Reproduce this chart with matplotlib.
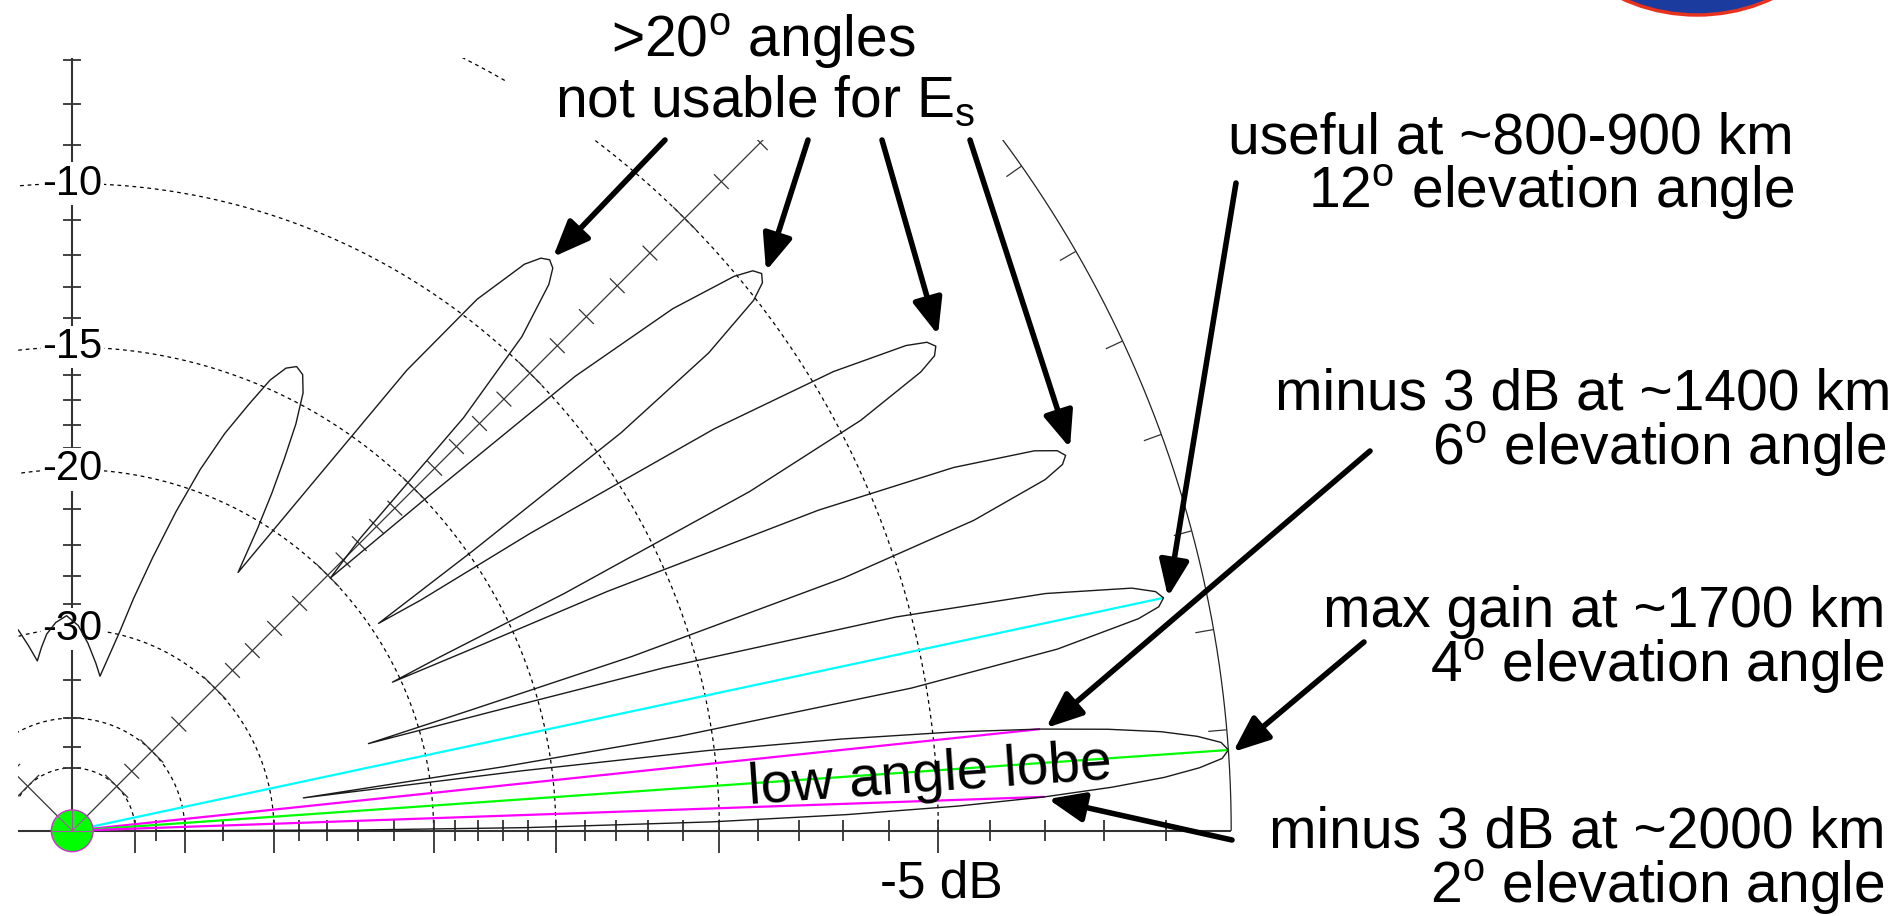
import numpy as np
import matplotlib
matplotlib.use("Agg")
import matplotlib.pyplot as plt
from matplotlib.patches import Circle, Ellipse, Rectangle

plt.rcParams["font.family"] = ["Liberation Sans", "DejaVu Sans"]
plt.rcParams["mathtext.fontset"] = "custom"
plt.rcParams["mathtext.rm"] = "Liberation Sans"

# ---- elevation pattern (elevation deg, gain dB) ----
elev_deg = [
    # low angle lobe
    0.0, 0.16, 0.4, 0.8, 1.2, 1.6, 2.0, 2.4, 2.8, 3.2, 3.6, 4.0, 4.4, 4.8, 5.2, 5.6,
    6.0, 6.4, 6.8, 7.2, 7.6, 8.1,
    # 12 deg lobe
    8.45, 8.85, 9.65, 10.45, 11.25, 11.65, 12.05, 12.45, 12.9, 13.7, 14.55, 15.4, 15.85, 16.4,
    # 21 deg lobe
    16.85, 17.3, 18.15, 19.0, 19.85, 20.3, 20.7, 21.1, 21.55, 22.4, 23.25, 24.1, 24.5, 24.9,
    # 29 deg lobe
    25.3, 25.75, 26.6, 27.5, 28.4, 28.85, 29.3, 29.75, 30.2, 31.1, 32.05, 33.0, 33.5, 34.1,
    # 39 deg lobe
    34.95, 35.95, 36.9, 37.9, 38.45, 38.95, 39.45, 39.95, 41.0, 42.1, 43.2, 44.4,
    # 50 deg lobe
    45.45, 46.55, 47.7, 48.9, 49.5, 50.1, 50.7, 51.4, 52.7, 54.0, 55.4, 57.3,
    # 64 deg lobe
    58.5, 59.4, 60.3, 61.2, 62.2, 63.2, 64.2, 65.2, 66.3, 67.5, 69.0, 70.5, 72.0, 73.6,
    75.2, 76.6, 78.2, 79.8,
    # overhead
    82.0, 85.2, 88.3, 91.5, 94.5, 97.4, 99.5, 101.6, 103.3, 104.9, 107.0,
]
gain_db = [
    -45, -24.0, -16.1, -10.2, -6.9, -4.6, -3.0, -1.85, -1.0, -0.45, -0.1, 0.0, -0.1, -0.45, -1.0, -1.85,
    -3.0, -4.6, -6.9, -10.2, -16.1, -27.5,
    -16.8, -10.9, -5.3, -2.5, -1.1, -0.75, -0.65, -0.75, -1.1, -2.5, -5.3, -10.9, -16.8, -22.7,
    -17.6, -11.7, -6.1, -3.35, -1.95, -1.6, -1.5, -1.6, -1.95, -3.35, -6.1, -11.7, -17.0, -20.4,
    -18.0, -12.9, -7.3, -4.55, -3.15, -2.8, -2.7, -2.8, -3.15, -4.55, -7.3, -12.9, -17.5, -19.6,
    -14.8, -9.2, -6.45, -5.05, -4.7, -4.6, -4.7, -5.05, -6.45, -9.2, -14.8, -20.0,
    -17.8, -12.2, -9.45, -8.05, -7.7, -7.6, -7.7, -8.05, -9.45, -12.2, -17.5, -22.8,
    -20.3, -18.6, -17.1, -15.7, -14.6, -14.05, -13.9, -14.1, -14.7, -15.8, -17.2, -19.0, -21.3, -24.1,
    -27.0, -29.8, -32.2, -34.3,
    -33.0, -31.2, -29.7, -28.9, -29.4, -30.3, -31.4, -32.6, -31.0, -29.6, -28.0,
]

# highlighted directions (cyan 12 deg, magenta -3 dB points, green max)
ref_elev = [12.05, 6.0, 4.0, 2.0]
ref_gain = [-0.65, -3.0, 0.0, -3.0]
ref_colors = ["#00FFFF", "#FF00FF", "#00FF00", "#FF00FF"]

# ARRL log scale grid
circle_db = [-5, -10, -15, -20, -30, -40, -50]
tick_db = list(range(-1, -21, -1)) + [-22, -24, -26, -28, -30, -35, -40, -45, -50]
label_db = [-10, -15, -20, -30]
label_txt = ["-10", "-15", "-20", "-30"]
arc_tick_deg = list(range(5, 90, 5))

W, H = 1903, 916
OX, OY, R = 72.2, 830.8, 1159.0   # pixel position of origin, 0 dB radius in px


def px(x, y):
    return (x - OX) / R, (OY - y) / R


def arrl(db):
    return 0.89 ** (-np.asarray(db, dtype=float) / 2.0)


def polar(deg, db):
    r = arrl(db)
    t = np.radians(np.asarray(deg, dtype=float))
    return r * np.cos(t), r * np.sin(t)


fig = plt.figure(figsize=(W / 100, H / 100), dpi=100)
ax = fig.add_axes([0, 0, 1, 1])
ax.set_xlim(px(0, 0)[0], px(W, 0)[0])
ax.set_ylim(px(0, H)[1], px(0, 0)[1])
ax.axis("off")

x_left = px(18, 0)[0]
y_top = px(0, 58)[1]
clip = Rectangle((x_left, -0.5), 3.0, y_top + 0.5, transform=ax.transData)


def L(x, y, **kw):
    ln, = ax.plot(x, y, solid_capstyle="butt", **kw)
    ln.set_clip_path(clip)
    return ln


# grid circles
t = np.linspace(0, np.pi, 720)
for db in circle_db:
    r = arrl(db)
    L(r * np.cos(t), r * np.sin(t), color="black", lw=0.9, ls=(0, (3, 3)), zorder=2)
L(np.cos(t), np.sin(t), color="#222222", lw=0.9, zorder=2)

# axes and radial lines
L([-0.2, 1.0], [0, 0], color="#333333", lw=1.5, zorder=2)
L([0, 0], [0, 1.0], color="#333333", lw=1.5, zorder=2)
c45 = np.cos(np.pi / 4)
L([0, c45], [0, c45], color="#333333", lw=0.9, zorder=2)
L([0, -c45], [0, c45], color="#333333", lw=0.9, zorder=2)

for db in tick_db:
    r = arrl(db)
    big = db in circle_db
    if big:
        L([r, r], [-0.019, 0.009], color="#333333", lw=1.3, zorder=2)
    else:
        L([r, r], [-0.009, 0.009], color="#333333", lw=1.3, zorder=2)
    L([-0.008, 0.008], [r, r], color="#333333", lw=1.3, zorder=2)
    h = 0.014 if big else 0.009
    for sgn in (1, -1):
        cx, cy = sgn * r * c45, r * c45
        dx, dy = -c45 * h, sgn * c45 * h
        L([cx - dx, cx + dx], [cy - dy, cy + dy], color="#333333", lw=0.9, zorder=2)

for deg in arc_tick_deg:
    a = np.radians(deg)
    L([np.cos(a), 0.984 * np.cos(a)], [np.sin(a), 0.984 * np.sin(a)],
      color="#333333", lw=0.9, zorder=2)

# axis labels with white background
for db, lab in zip(label_db, label_txt):
    ax.text(0, arrl(db), lab, ha="center", va="center", fontsize=30, zorder=3.8,
            bbox=dict(facecolor="white", edgecolor="none", pad=1))

# highlighted directions
for a, g, c in zip(ref_elev, ref_gain, ref_colors):
    x, y = polar(a, g)
    L([0, x], [0, y], color=c, lw=1.6, zorder=3.5)

# pattern
pat_x, pat_y = polar(elev_deg, gain_db)
L(pat_x, pat_y, color="#1a1a1a", lw=1.0, zorder=4)

# antenna marker at origin
ax.add_patch(Circle((0, 0), 0.018, facecolor="#00FF00", edgecolor="#CC33CC", lw=1.0, zorder=6))
for ang in (0, 45, 90, 135, 180):
    a = np.radians(ang)
    ax.plot([0, 0.018 * np.cos(a)], [0, 0.018 * np.sin(a)], color="#AA55AA", lw=0.8, zorder=6.5)

# white box behind top annotation
x0, y0 = px(505, 140)
ax.add_patch(Rectangle((x0, y0), (1012 - 505) / R, 160 / R, facecolor="white",
                       edgecolor="none", zorder=7))

# logo fragment at top right
ax.add_patch(Ellipse(px(1697, -135), 330 / R, 300 / R, facecolor="#1c3b9e",
                     edgecolor="#e8321e", lw=2.5, zorder=1))


def T(s, X, Y, ha="right", size=41, **kw):
    ax.text(*px(X, Y), s, ha=ha, va="baseline", fontsize=size, zorder=8, **kw)


T(r">20$^\mathregular{o}$ angles", 763, 58, ha="center")
T(r"not usable for E$_\mathregular{s}$", 765, 117, ha="center")
T("useful at ~800-900 km", 1794, 153)
T(r"12$^\mathregular{o}$ elevation angle", 1794, 209)
T("minus 3 dB at ~1400 km", 1891, 409)
T(r"6$^\mathregular{o}$ elevation angle", 1887, 466)
T("max gain at ~1700 km", 1885, 627)
T(r"4$^\mathregular{o}$ elevation angle", 1885, 683)
T("minus 3 dB at ~2000 km", 1885, 848)
T(r"2$^\mathregular{o}$ elevation angle", 1885, 904)
T("-5 dB", 941, 898, ha="center", size=37)
ax.text(*px(930, 776), "low angle lobe", rotation=4, rotation_mode="anchor",
        ha="center", va="center", fontsize=41, zorder=8)

# arrows (start, tip) in image pixels
arrows = [
    ((665, 140), (553, 257)),
    ((808, 140), (766, 271)),
    ((882, 140), (938, 335)),
    ((970, 140), (1070, 448)),
    ((1236, 183), (1168, 597)),
    ((1370, 451), (1046, 728)),
    ((1364, 642), (1233, 752)),
    ((1232, 840), (1048, 799)),
]
for s, e in arrows:
    ax.annotate("", xy=px(*e), xytext=px(*s), zorder=9,
                arrowprops=dict(arrowstyle="-|>,head_length=1.1,head_width=0.45",
                                mutation_scale=20, lw=4, color="black",
                                shrinkA=0, shrinkB=0))

fig.savefig("out.png", dpi=100)
